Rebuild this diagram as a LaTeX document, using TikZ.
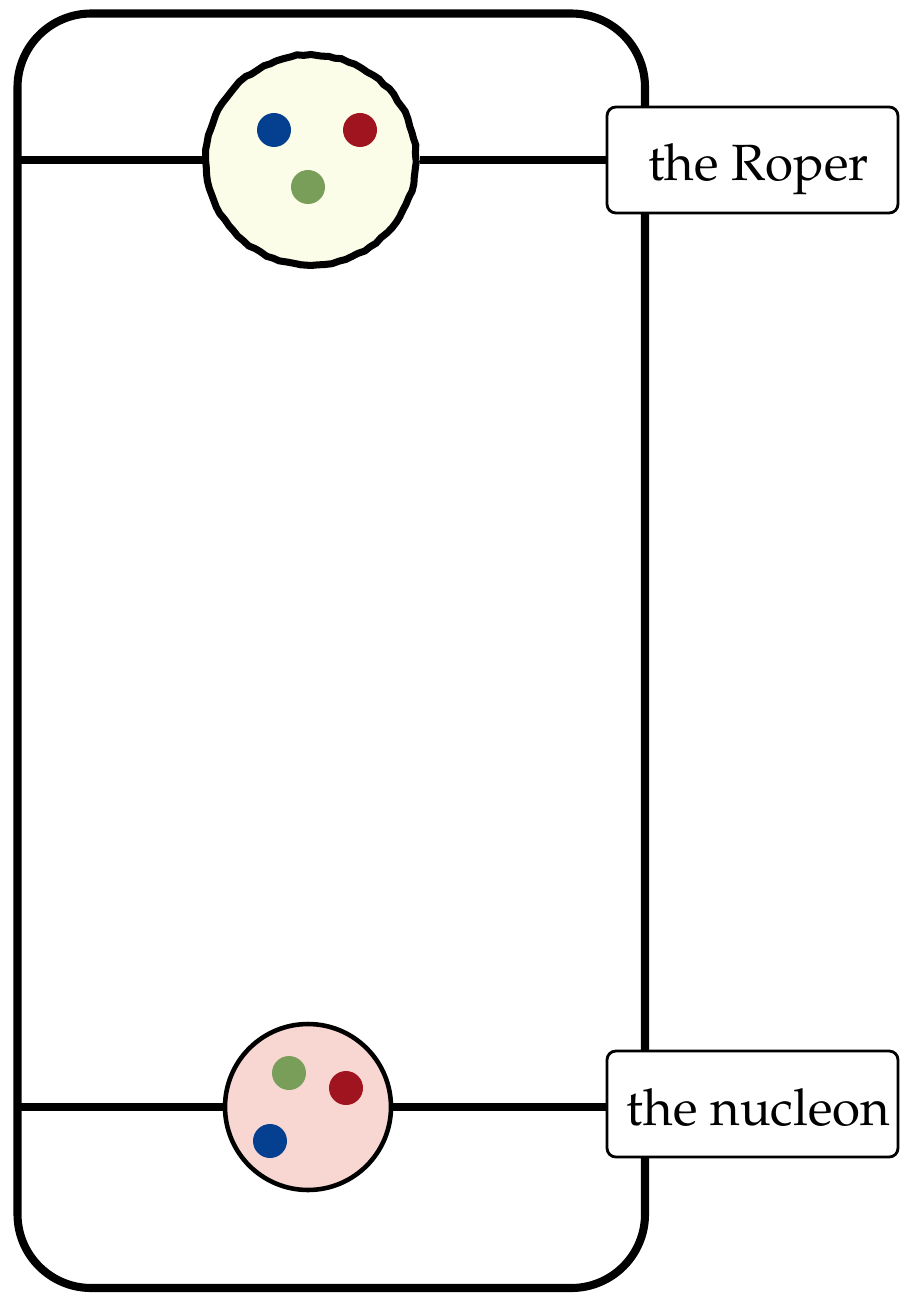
\documentclass[tikz,border=0pt]{standalone}
\usepackage[T1]{fontenc}
\usepackage{mathpazo}
\usepackage{xcolor}
\usepackage{tikz}
\usetikzlibrary{calc, shapes.geometric, positioning, decorations.pathmorphing}

\definecolor{qblue}{RGB}{5,63,143}
\definecolor{qred}{RGB}{160,20,32}
\definecolor{qgreen}{RGB}{120,158,90}
\definecolor{ropercol}{RGB}{252,253,232}
\definecolor{nuclcol}{RGB}{248,215,210}

% texte de l'etiquette, descendu sur sa ligne de base
\newcommand{\tagtext}[1]{\hspace*{0.24cm}\raisebox{-0.42cm}[0pt][0pt]{#1}}

\tikzset{
    baryon/.style={circle, draw=black, inner sep=0pt},
    quark/.style={circle, inner sep=0pt, minimum size=0.68cm},
    tag/.style={rectangle, rounded corners=5pt, draw=black, line width=1.6pt, fill=white,
        minimum width=5.82cm, minimum height=2.12cm, inner sep=0pt,
        font=\fontsize{29}{33}\selectfont},
    prop/.style={line width=4.3pt}
}

\begin{document}
\begin{tikzpicture}[x=0.02cm, y=-0.02cm]
    % cadre de la figure
    \useasboundingbox (0,0) rectangle (900,1293);
    \draw[line width=4.6pt, rounded corners=42] (17.5,13.5) rectangle (645,1288);

    % les deux etats
    \node[baryon, fill=ropercol, line width=4pt, minimum size=4.2cm,
        decorate, decoration={random steps, segment length=4pt, amplitude=0.5pt}] (roper) at (311,160) {};
    \node[baryon, fill=nuclcol, line width=2.6pt, minimum size=3.32cm] (nucl) at (308,1107) {};

    % quarks
    \node[quark, fill=qblue] (rb) at (274,130) {};
    \node[quark, fill=qred] (rr) at (360,130) {};
    \node[quark, fill=qgreen] (rg) at (308,187) {};
    \node[quark, fill=qgreen] (ng) at (289,1073) {};
    \node[quark, fill=qred] (nr) at (346,1088) {};
    \node[quark, fill=qblue] (nb) at (270,1141) {};

    % etiquettes
    \node[tag] (roperlbl) at (752.5,160) {\tagtext{the Roper}};
    \node[tag] (nucllbl) at (752.5,1104) {\tagtext{the nucleon}};

    % lignes
    \coordinate (rl) at (17.5,160);
    \coordinate (nl) at (17.5,1107);
    \draw[prop] (rl) -- (roper);
    \draw[prop] (roper) -- (roperlbl);
    \draw[prop] (nl) -- (nucl);
    \draw[prop] (nucl) -- (nucllbl.west |- nucl);
\end{tikzpicture}
\end{document}
